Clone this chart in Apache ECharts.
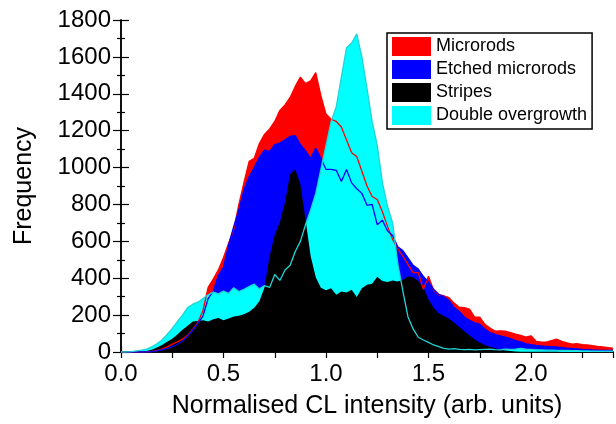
<!DOCTYPE html>
<html>
<head>
<meta charset="utf-8">
<script src="https://cdn.jsdelivr.net/npm/echarts@6/dist/echarts.min.js"></script>
<style>
html,body{margin:0;padding:0;background:#fff;}
#chart{width:616px;height:424px;}
</style>
</head>
<body>
<div id="chart"></div>
<script>
// Normalised CL intensity bins (arb. units)
const intensity = [0.000,0.025,0.050,0.075,0.100,0.125,0.150,0.175,0.200,0.225,0.250,0.275,0.300,0.325,0.350,0.375,0.400,0.425,0.450,0.475,0.500,0.525,0.550,0.575,0.600,0.625,0.650,0.675,0.700,0.725,0.750,0.775,0.800,0.825,0.850,0.875,0.900,0.925,0.950,0.975,1.000,1.025,1.050,1.075,1.100,1.125,1.150,1.175,1.200,1.225,1.250,1.275,1.300,1.325,1.350,1.375,1.400,1.425,1.450,1.475,1.500,1.525,1.550,1.575,1.600,1.625,1.650,1.675,1.700,1.725,1.750,1.775,1.800,1.825,1.850,1.875,1.900,1.925,1.950,1.975,2.000,2.025,2.050,2.075,2.100,2.125,2.150,2.175,2.200,2.225,2.250,2.275,2.300,2.325,2.350,2.375,2.400];

const microrods = [0,0,0,0,0,1,3,8,16,28,43,55,70,90,122,160,225,350,395,445,513,590,665,800,920,1034,1050,1130,1180,1210,1250,1310,1340,1380,1440,1490,1455,1470,1515,1390,1290,1262,1250,1220,1150,1080,1060,980,900,843,827,760,681,610,560,519,475,430,430,340,411,335,310,305,295,265,243,240,232,189,189,150,130,113,115,113,105,97,90,81,88,58,54,54,62,70,58,50,43,45,40,38,35,30,27,24,21];

const etchedMicrorods = [0,0,0,0,0,0,2,6,12,20,29,42,58,86,118,155,195,290,330,415,459,580,681,770,880,950,1000,1055,1095,1088,1124,1133,1150,1169,1173,1125,1090,1050,1106,1050,990,990,985,925,990,917,885,860,795,800,690,715,656,632,570,550,510,470,450,410,380,340,313,300,280,241,220,190,172,158,151,125,105,95,88,80,72,62,55,45,40,36,33,31,29,27,24,21,19,17,14,13,11,10,9,8,8];

const stripes = [0,0,0,0,2,5,12,24,38,55,72,95,120,142,165,168,172,165,178,185,172,182,192,196,205,218,240,275,350,520,635,705,810,965,990,910,720,520,405,348,335,345,310,328,322,338,298,345,365,370,408,385,380,388,382,392,410,405,385,350,285,240,210,195,180,158,135,112,90,68,52,38,28,20,14,8,5,3,2,2,1,1,1,1,1,1,0,0,0,0,0,0,0,0,0,0,0];

const doubleOvergrowth = [0,0,2,6,10,16,28,45,65,95,128,165,200,241,259,270,290,310,325,315,330,318,348,328,340,355,368,342,360,350,420,388,445,470,545,600,690,770,860,990,1120,1250,1330,1490,1650,1675,1725,1600,1430,1250,1120,920,790,700,480,330,190,125,80,65,52,38,29,20,16,18,14,13,14,12,13,14,15,13,12,15,14,16,20,15,14,12,11,10,10,9,8,8,7,7,6,6,5,5,5,4,4];

const xTickLabels = ['0.0','0.5','1.0','1.5','2.0'];
const legendNames = ['Microrods','Etched microrods','Stripes','Double overgrowth'];

const FONT = 'Liberation Sans, Arial, Helvetica, sans-serif';
const pairs = ys => intensity.map((x, i) => [x, ys[i]]);

const fillSeries = (name, ys, color, z) => ({
  name, type: 'line', data: pairs(ys), z,
  showSymbol: false, symbol: 'none', silent: true,
  color, itemStyle: {color},
  lineStyle: {width: 0, color},
  areaStyle: {color, opacity: 1}
});
const lineSeries = (name, ys, color) => ({
  name, type: 'line', data: pairs(ys), z: 10,
  showSymbol: false, symbol: 'none', silent: true,
  color, lineStyle: {width: 1.3, color}
});

const chart = echarts.init(document.getElementById('chart'), null, {renderer: 'canvas'});
const axisLine = {show: true, lineStyle: {color: '#000', width: 1.5}};
const isHalf = v => Math.abs(v / 0.5 - Math.round(v / 0.5)) < 1e-6 && v <= 2.0001;

chart.setOption({
  animation: false,
  backgroundColor: '#fff',
  textStyle: {fontFamily: FONT},
  grid: {left: 121, right: 3, top: 20, bottom: 71, containLabel: false},
  legend: {
    left: 387, top: 33, orient: 'vertical',
    data: [
      {name: legendNames[0], itemStyle: {color: '#ff0000'}},
      {name: legendNames[1], itemStyle: {color: '#0000ff'}},
      {name: legendNames[2], itemStyle: {color: '#000000'}},
      {name: legendNames[3], itemStyle: {color: '#00ffff'}}
    ],
    icon: 'rect', itemWidth: 39, itemHeight: 19, itemGap: 4, itemTextGap: 7,
    padding: [4, 5, 4, 5],
    borderColor: '#000', borderWidth: 1.5, backgroundColor: '#fff',
    selectedMode: false,
    textStyle: {fontSize: 18, color: '#000', fontFamily: FONT, lineHeight: 19}
  },
  xAxis: [
    {
      type: 'value', min: 0, max: 2.4, interval: 0.25, position: 'bottom',
      name: 'Normalised CL intensity (arb. units)', nameLocation: 'middle', nameGap: 42,
      nameTextStyle: {fontSize: 25, color: '#000', fontFamily: FONT},
      axisLine, splitLine: {show: false},
      axisTick: {show: true, inside: true, length: 6, lineStyle: {color: '#000', width: 1.2}},
      axisLabel: {
        fontSize: 24, color: '#000', margin: 10, fontFamily: FONT,
        showMaxLabel: false,
        formatter: v => isHalf(v) ? xTickLabels[Math.round(v / 0.5)] : ''
      }
    },
    {
      type: 'value', min: 0, max: 2.4, interval: 0.25, position: 'top',
      axisLine, splitLine: {show: false},
      axisTick: {show: true, inside: true, length: 6, lineStyle: {color: '#000', width: 1.2}},
      axisLabel: {show: false}
    }
  ],
  yAxis: [
    {
      type: 'value', min: 0, max: 1800, interval: 200, position: 'left',
      name: 'Frequency', nameLocation: 'middle', nameGap: 84, nameRotate: 90,
      nameTextStyle: {fontSize: 25, color: '#000', fontFamily: FONT},
      axisLine, splitLine: {show: false},
      axisTick: {show: true, inside: true, length: 8, lineStyle: {color: '#000', width: 1.2}},
      minorTick: {show: true, splitNumber: 2, length: 4, lineStyle: {color: '#000', width: 1.2}},
      axisLabel: {fontSize: 24, color: '#000', margin: 10, fontFamily: FONT, formatter: v => String(v)}
    },
    {
      type: 'value', min: 0, max: 1800, interval: 200, position: 'right',
      axisLine, splitLine: {show: false},
      axisTick: {show: true, inside: true, length: 8, lineStyle: {color: '#000', width: 1.2}},
      minorTick: {show: true, splitNumber: 2, length: 4, lineStyle: {color: '#000', width: 1.2}},
      axisLabel: {show: false}
    }
  ],
  series: [
    fillSeries(legendNames[0], microrods, '#ff0000', 1),
    fillSeries(legendNames[1], etchedMicrorods, '#0000ff', 2),
    fillSeries(legendNames[3], doubleOvergrowth, '#00ffff', 3),
    fillSeries(legendNames[2], stripes, '#000000', 4),
    lineSeries('Microrods line', microrods, '#ff0000'),
    lineSeries('Etched microrods line', etchedMicrorods, '#0000ff'),
    lineSeries('Double overgrowth line', doubleOvergrowth, '#22d4d4')
  ]
});
</script>
</body>
</html>
